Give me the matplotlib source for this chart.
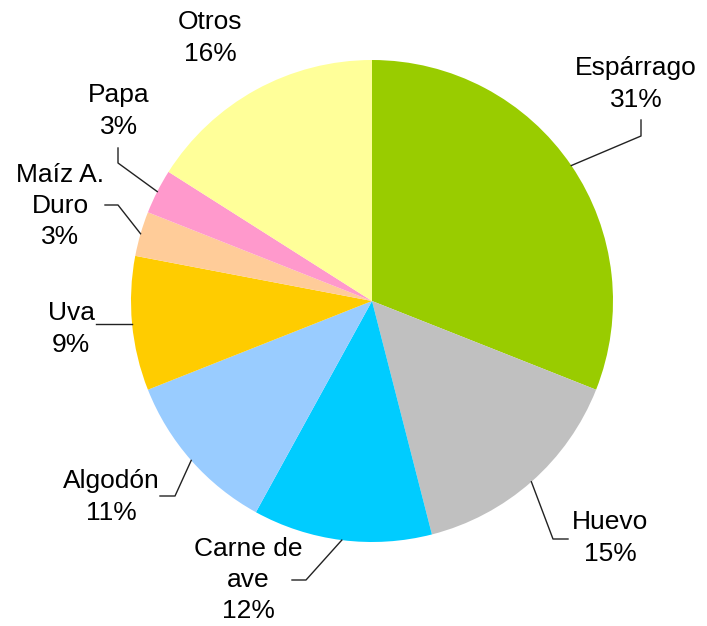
import numpy as np
import matplotlib
matplotlib.use("Agg")
import matplotlib.pyplot as plt

plt.rcParams['font.family'] = ['Liberation Sans', 'DejaVu Sans']

# datos
productos = ["Espárrago", "Huevo", "Carne de\nave", "Algodón", "Uva",
             "Maíz A.\nDuro", "Papa", "Otros"]
porcentajes = [31, 15, 12, 11, 9, 3, 3, 16]
colores = ["#99CC00", "#C0C0C0", "#00CCFF", "#99CCFF", "#FFCC00",
           "#FFCC99", "#FF99CC", "#FFFF99"]

W, H = 707, 626
cx, cy, r = 372, H - 301, 241

# posicion de textos (pixeles) y codo de la linea guia
pos_texto = [(636, 84), (610, 538), (248, 580), (111, 497), (71, 329),
             (60, 206), (119, 111), (210, 38)]
codos = [[(641, 136), (641, 120)], [(553, 539), (568, 539)],
         [(306, 580), (292, 580)], [(175, 496), (160, 496)],
         [(96, None)], [(118, 205), (105, 205)],
         [(118, 163), (118, 148)], None]

fig = plt.figure(figsize=(W / 100, H / 100), dpi=100)
ax = fig.add_axes([0, 0, 1, 1])

ax.pie(porcentajes, colors=colores, startangle=90, counterclock=False,
       center=(cx, cy), radius=r, wedgeprops=dict(linewidth=0), frame=True)
ax.set_xlim(0, W)
ax.set_ylim(0, H)
ax.axis("off")

total = sum(porcentajes)
acum = 0
for i, p in enumerate(porcentajes):
    medio = 90 - (acum + p / 2) / total * 360
    acum += p
    tx, ty = pos_texto[i]
    ax.text(tx, H - ty, "%s\n%d%%" % (productos[i], p), ha="center",
            va="center", fontsize=19, linespacing=1.38, color="black")
    if codos[i] is None:
        continue
    x0 = cx + r * np.cos(np.radians(medio))
    y0 = cy + r * np.sin(np.radians(medio))
    xs = [x0] + [c[0] for c in codos[i]]
    ys = [y0] + [y0 if c[1] is None else H - c[1] for c in codos[i]]
    ax.plot(xs, ys, color="#222222", lw=1.0)

fig.savefig("out.png", dpi=100)
